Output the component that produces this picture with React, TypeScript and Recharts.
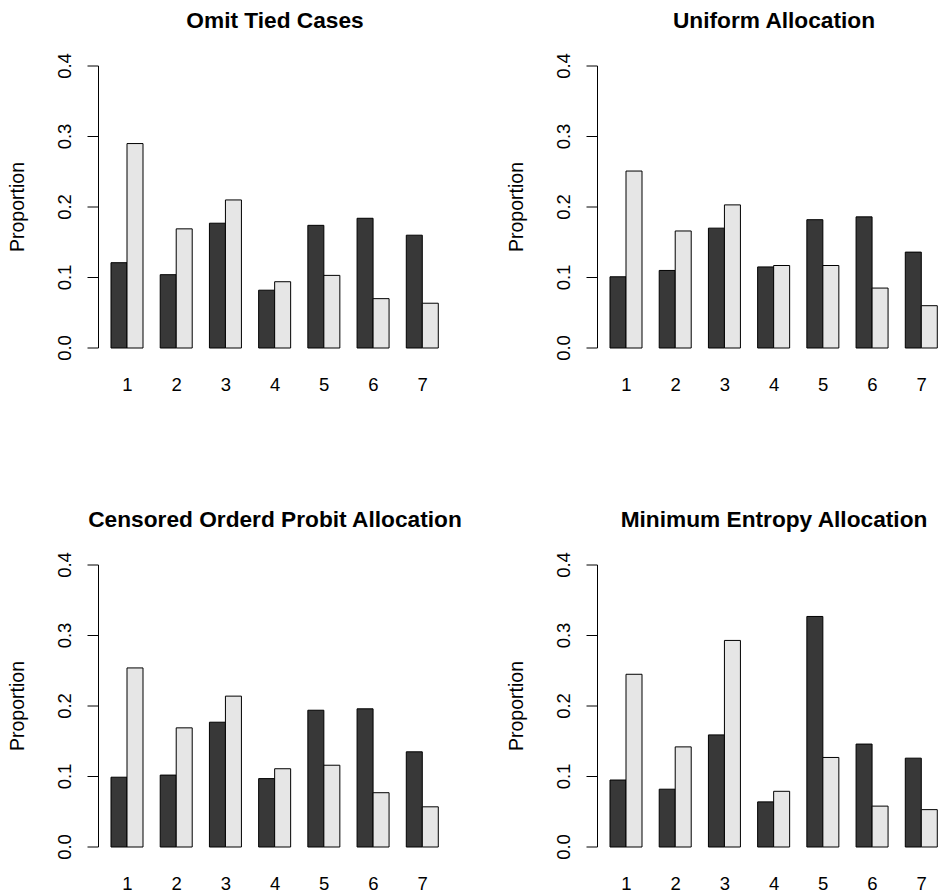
import { BarChart, Bar, XAxis, YAxis } from 'recharts'

const categories = ['1', '2', '3', '4', '5', '6', '7']
const yTicks = [0, 0.1, 0.2, 0.3, 0.4]

const omitDark = [0.121, 0.104, 0.177, 0.082, 0.174, 0.184, 0.160]
const omitLight = [0.290, 0.169, 0.210, 0.094, 0.103, 0.070, 0.0635]

const uniformDark = [0.101, 0.110, 0.170, 0.115, 0.182, 0.186, 0.136]
const uniformLight = [0.251, 0.166, 0.203, 0.117, 0.117, 0.085, 0.060]

const probitDark = [0.099, 0.102, 0.177, 0.097, 0.194, 0.196, 0.135]
const probitLight = [0.254, 0.169, 0.214, 0.111, 0.116, 0.077, 0.057]

const entropyDark = [0.095, 0.082, 0.159, 0.064, 0.327, 0.146, 0.126]
const entropyLight = [0.245, 0.142, 0.293, 0.079, 0.127, 0.058, 0.053]

const DARK = '#383838'
const LIGHT = '#e6e6e6'
const FONT = '"Liberation Sans", Arial, Helvetica, sans-serif'

const W = 470
const H = 400

function YTick(props: any) {
  const { y, payload } = props
  const x = 71
  return (
    <text x={x} y={y} transform={`rotate(-90, ${x}, ${y})`} textAnchor="middle"
      fontSize={18.5} fontFamily={FONT} fill="#000">
      {payload.value.toFixed(1)}
    </text>
  )
}

function XTick(props: any) {
  const { x, payload } = props
  return (
    <text x={x} y={391} textAnchor="middle" fontSize={18.5} fontFamily={FONT} fill="#000">
      {payload.value}
    </text>
  )
}

function Panel({ title, dark, light, left, top }: { title: string, dark: number[], light: number[], left: number, top: number }) {
  const data = categories.map((c, i) => ({ cat: c, dark: dark[i], light: light[i] }))
  return (
    <div style={{ position: 'absolute', left, top, width: W, height: H }}>
      <BarChart width={W} height={H} data={data} barGap={0} barCategoryGap={8.2}
        margin={{ top: 66, right: 18.5, bottom: 0, left: 0 }}>
        <XAxis dataKey="cat" axisLine={false} tickLine={false} height={52}
          padding={{ left: 4.3, right: 4.2 }} tick={<XTick />} interval={0} />
        <YAxis width={98.5} domain={[0, 0.4]} ticks={yTicks} tickSize={11}
          axisLine={{ stroke: '#000' }} tickLine={{ stroke: '#000' }} tick={<YTick />} />
        <Bar dataKey="dark" fill={DARK} stroke="#000" strokeWidth={1} isAnimationActive={false} />
        <Bar dataKey="light" fill={LIGHT} stroke="#000" strokeWidth={1} isAnimationActive={false} />
      </BarChart>
      <svg width={W} height={H} style={{ position: 'absolute', left: 0, top: 0, pointerEvents: 'none' }}>
        <text x={275} y={27.6} textAnchor="middle" fontSize={22.7} fontWeight="bold" fontFamily={FONT} fill="#000">
          {title}
        </text>
        <text x={24} y={207} transform="rotate(-90, 24, 207)" textAnchor="middle" fontSize={19.5} fontFamily={FONT} fill="#000">
          Proportion
        </text>
      </svg>
    </div>
  )
}

export default function App() {
  return (
    <div style={{ position: 'absolute', left: 0, top: 0, width: 940, height: 894, overflow: 'hidden', background: '#fff' }}>
      <Panel title="Omit Tied Cases" dark={omitDark} light={omitLight} left={0} top={0} />
      <Panel title="Uniform Allocation" dark={uniformDark} light={uniformLight} left={499.2} top={0} />
      <Panel title="Censored Orderd Probit Allocation" dark={probitDark} light={probitLight} left={0} top={499.3} />
      <Panel title="Minimum Entropy Allocation" dark={entropyDark} light={entropyLight} left={499.2} top={499.3} />
    </div>
  )
}
